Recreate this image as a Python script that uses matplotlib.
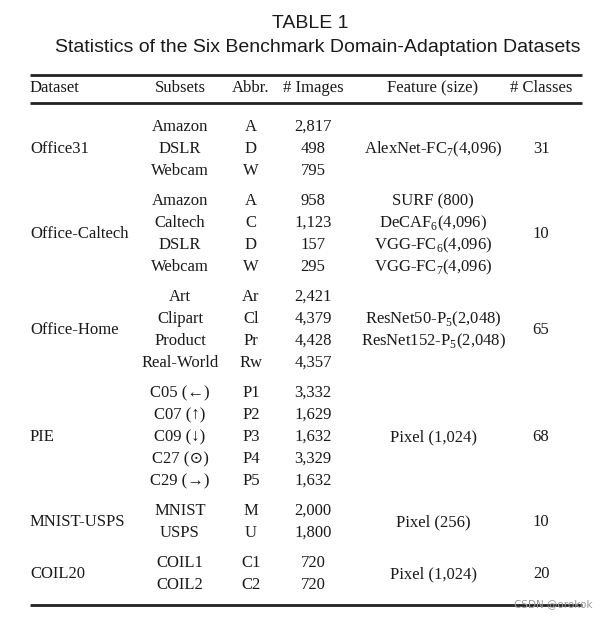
import matplotlib.pyplot as plt

plt.rcParams['mathtext.fontset'] = 'custom'
plt.rcParams['mathtext.rm'] = 'Liberation Serif'

title_lines = ['TABLE 1', 'Statistics of the Six Benchmark Domain-Adaptation Datasets']
headers = ['Dataset', 'Subsets', 'Abbr.', '# Images', 'Feature (size)', '# Classes']

datasets = ['Office31', 'Office-Caltech', 'Office-Home', 'PIE', 'MNIST-USPS', 'COIL20']
subsets = [
    ['Amazon', 'DSLR', 'Webcam'],
    ['Amazon', 'Caltech', 'DSLR', 'Webcam'],
    ['Art', 'Clipart', 'Product', 'Real-World'],
    ['C05 (\u2190)', 'C07 (\u2191)', 'C09 (\u2193)', 'C27 (\u2299)', 'C29 (\u2192)'],
    ['MNIST', 'USPS'],
    ['COIL1', 'COIL2'],
]
abbrs = [
    ['A', 'D', 'W'],
    ['A', 'C', 'D', 'W'],
    ['Ar', 'Cl', 'Pr', 'Rw'],
    ['P1', 'P2', 'P3', 'P4', 'P5'],
    ['M', 'U'],
    ['C1', 'C2'],
]
n_images = [
    ['2,817', '498', '795'],
    ['958', '1,123', '157', '295'],
    ['2,421', '4,379', '4,428', '4,357'],
    ['3,332', '1,629', '1,632', '3,329', '1,632'],
    ['2,000', '1,800'],
    ['720', '720'],
]
# features: list per group, placed at given row offsets
features = [
    [(1, r'AlexNet-FC$_\mathrm{7}$(4,096)')],
    [(0, 'SURF (800)'), (1, r'DeCAF$_\mathrm{6}$(4,096)'),
     (2, r'VGG-FC$_\mathrm{6}$(4,096)'), (3, r'VGG-FC$_\mathrm{7}$(4,096)')],
    [(1, r'ResNet50-P$_\mathrm{5}$(2,048)'), (2, r'ResNet152-P$_\mathrm{5}$(2,048)')],
    [(2, 'Pixel (1,024)')],
    [(0.5, 'Pixel (256)')],
    [(0.5, 'Pixel (1,024)')],
]
n_classes = ['31', '10', '65', '68', '10', '20']

W, H = 605, 618
fig = plt.figure(figsize=(W / 100, H / 100), dpi=100)
ax = fig.add_axes([0, 0, 1, 1])
ax.set_xlim(0, W)
ax.set_ylim(H, 0)
ax.axis('off')

serif = ['Liberation Serif', 'DejaVu Serif']
fs = 12
tc = '#1a1a1a'
col_x = [30, 180, 251, 313, 433, 541]

ax.text(310, 23, title_lines[0], ha='center', va='center', fontsize=14,
        family='Liberation Sans', color=tc)
ax.text(318, 47, title_lines[1], ha='center', va='center', fontsize=14,
        family='Liberation Sans', color=tc)

x0, x1 = 30, 582
for y in (75, 103, 605):
    ax.plot([x0, x1], [y, y], color='#222222', lw=2.0, solid_capstyle='butt')

for i, h in enumerate(headers):
    ax.text(col_x[i], 88, h, ha='left' if i == 0 else 'center', va='center',
            fontsize=fs, family=serif, color=tc)

y = 127
row_h, gap = 22, 30
for g in range(len(datasets)):
    n = len(subsets[g])
    mid = y + (n - 1) * row_h / 2
    ax.text(col_x[0], mid, datasets[g], ha='left', va='center', fontsize=fs, family=serif, color=tc)
    ax.text(col_x[5], mid, n_classes[g], ha='center', va='center', fontsize=fs, family=serif, color=tc)
    for k in range(n):
        yy = y + k * row_h
        ax.text(col_x[1], yy, subsets[g][k], ha='center', va='center', fontsize=fs, family=serif, color=tc)
        ax.text(col_x[2], yy, abbrs[g][k], ha='center', va='center', fontsize=fs, family=serif, color=tc)
        ax.text(col_x[3], yy, n_images[g][k], ha='center', va='center', fontsize=fs, family=serif, color=tc)
    for off, f in features[g]:
        ax.text(col_x[4], y + off * row_h, f, ha='center', va='center', fontsize=fs, family=serif, color=tc)
    y += (n - 1) * row_h + gap

ax.text(592, 604, 'CSDN @orokok', ha='right', va='center', fontsize=7.5, color='#999999',
        family='DejaVu Sans')

fig.savefig('out.png', dpi=100)
